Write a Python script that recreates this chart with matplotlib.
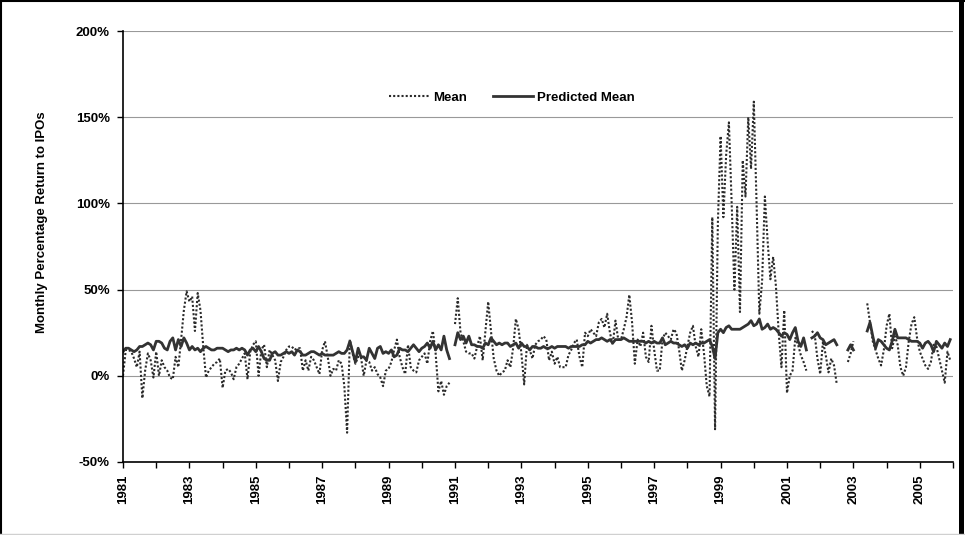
import numpy as np
import matplotlib
matplotlib.use("Agg")
import matplotlib.pyplot as plt
from matplotlib.lines import Line2D
from matplotlib.ticker import FixedLocator, FuncFormatter

nan = np.nan

# monthly values in percent, Jan 1981 - Dec 2005, one row per year
mean_ret = [
    0, 15, 15, 14, 10, 5, 14, -13, 3, 13, 9, -1,            # 1981
    14, 0, 9, 5, 3, -1, -2, 11, 5, 21, 38, 49,              # 1982
    43, 46, 26, 48, 38, 17, -1, 3, 5, 7, 8, 10,             # 1983
    -7, 3, 4, 2, -2, 5, 7, 10, 13, -2, 14, 18,              # 1984
    20, 0, 15, 18, 5, 15, 12, 9, -3, 8, 11, 15,             # 1985
    17, 17, 15, 16, 16, 3, 9, 3, 11, 9, 5, 1,               # 1986
    15, 20, 11, 0, 4, 3, 9, 7, -6, -33, 21, 13,             # 1987
    7, 11, 11, 0, 9, 8, 3, 5, 1, -1, -6, 3,                 # 1988
    4, 8, 15, 21, 11, 5, 1, 18, 5, 3, 2, 9,                 # 1989
    11, 13, 7, 20, 26, 13, -9, -3, -11, -6, -4, nan,        # 1990
    30, 45, 25, 20, 14, 13, 13, 10, 17, 23, 9, 26,          # 1991
    43, 26, 10, 3, 0, 2, 3, 9, 5, 16, 33, 27,               # 1992
    13, -5, 18, 15, 10, 18, 20, 21, 23, 21, 9, 14,          # 1993
    7, 11, 5, 5, 5, 12, 15, 19, 21, 11, 5, 25,              # 1994
    23, 27, 25, 23, 31, 33, 28, 36, 25, 18, 32, 21,         # 1995
    21, 27, 34, 47, 31, 7, 21, 17, 25, 11, 8, 29,           # 1996
    15, 3, 3, 21, 25, 23, 21, 27, 25, 15, 3, 9,             # 1997
    17, 25, 29, 17, 11, 27, 13, -6, -12, 92, -31, 88,       # 1998
    139, 92, 128, 147, 100, 50, 98, 37, 125, 104, 150, 120, # 1999
    159, 100, 36, 55, 104, 78, 56, 69, 52, 25, 5, 38,       # 2000
    -10, 0, 3, 22, 18, 12, 8, 3, nan, 26, 24, 10,           # 2001
    1, 20, 12, 2, 10, 6, -5, nan, nan, nan, 8, 13,          # 2002
    20, nan, nan, nan, nan, 42, 31, 20, 15, 10, 6, 15,      # 2003
    29, 36, 16, 23, 18, 5, 0, 5, 20, 30, 34, 22,            # 2004
    14, 10, 6, 4, 8, 18, 17, 10, 3, -4, 14, 9,              # 2005
]

pred_mean = [
    14, 16, 16, 15, 14, 15, 17, 17, 18, 19, 18, 15,         # 1981
    20, 20, 19, 16, 15, 20, 22, 15, 21, 17, 22, 19,         # 1982
    15, 17, 15, 16, 14, 16, 17, 16, 15, 15, 16, 16,         # 1983
    16, 15, 14, 15, 15, 16, 15, 16, 15, 12, 15, 16,         # 1984
    14, 17, 14, 10, 9, 9, 13, 14, 12, 12, 13, 14,           # 1985
    13, 14, 12, 15, 14, 12, 12, 13, 14, 14, 13, 12,         # 1986
    13, 12, 12, 12, 12, 13, 14, 13, 13, 15, 20, 14,         # 1987
    8, 16, 11, 11, 9, 16, 13, 10, 16, 17, 13, 14,           # 1988
    13, 15, 11, 12, 16, 15, 15, 14, 16, 18, 16, 14,         # 1989
    16, 17, 19, 16, 20, 15, 18, 15, 23, 15, 10, nan,        # 1990
    18, 25, 21, 23, 19, 23, 18, 18, 17, 17, 16, 19,         # 1991
    18, 22, 20, 18, 19, 18, 19, 19, 17, 18, 19, 16,         # 1992
    19, 17, 17, 15, 17, 17, 16, 16, 17, 16, 16, 17,         # 1993
    16, 17, 17, 17, 17, 16, 17, 17, 17, 17, 18, 18,         # 1994
    20, 19, 20, 21, 21, 22, 21, 20, 21, 19, 21, 21,         # 1995
    21, 22, 21, 20, 20, 20, 20, 20, 20, 19, 20, 19,         # 1996
    20, 19, 19, 22, 18, 19, 20, 19, 19, 18, 17, 18,         # 1997
    16, 19, 18, 19, 18, 19, 19, 20, 21, 17, 10, 25,         # 1998
    27, 25, 28, 29, 27, 27, 27, 27, 28, 29, 30, 32,         # 1999
    29, 30, 33, 27, 28, 30, 27, 28, 27, 25, 23, 25,         # 2000
    24, 21, 25, 28, 20, 17, 22, 15, nan, 22, 23, 25,        # 2001
    22, 21, 18, 19, 20, 21, 18, nan, nan, nan, 15, 18,      # 2002
    15, nan, nan, nan, nan, 26, 31, 23, 16, 21, 20, 18,     # 2003
    16, 15, 20, 27, 22, 22, 22, 22, 21, 20, 20, 20,         # 2004
    19, 16, 19, 20, 18, 14, 20, 18, 16, 19, 17, 21,         # 2005
]

first_year = 1981
last_year = 2006
y_ticks = [-50, 0, 50, 100, 150, 200]

months = first_year + np.arange(len(mean_ret)) / 12.0
years = list(range(first_year, last_year + 1))
year_labels = [str(y) if (y - first_year) % 2 == 0 and y < last_year else "" for y in years]

plt.rcParams["font.family"] = ["Liberation Sans", "DejaVu Sans"]
plt.rcParams["font.weight"] = "bold"

fig = plt.figure(figsize=(9.65, 5.35), dpi=100)
ax = fig.add_axes([123 / 965, 1 - 462 / 535, 830 / 965, 431 / 535])

ax.plot(months, mean_ret, color="#2a2a2a", lw=1.5, linestyle=(0, (1, 1)), label="Mean")
ax.plot(months, pred_mean, color="#333333", lw=2.0, label="Predicted Mean")

ax.set_xlim(first_year, last_year)
ax.set_ylim(-50, 200)
ax.yaxis.set_major_locator(FixedLocator(y_ticks))
ax.yaxis.set_major_formatter(FuncFormatter(lambda v, p: f"{v:.0f}%"))
ax.xaxis.set_major_locator(FixedLocator(years))
ax.set_xticklabels(year_labels, rotation=90, fontsize=9.5, fontweight="bold")
ax.tick_params(axis="y", labelsize=9.5, length=4, width=1, pad=5.5)
ax.tick_params(axis="x", length=4, width=1, pad=5)

ax.grid(axis="y", color="#999999", lw=0.8)
ax.set_axisbelow(True)
for s in ("top", "right"):
    ax.spines[s].set_visible(False)
for s in ("left", "bottom"):
    ax.spines[s].set_linewidth(1.2)

fig.text(42 / 965, 1 - 222 / 535, "Monthly Percentage Return to IPOs",
         rotation=90, ha="center", va="center", fontsize=9.5, fontweight="bold")

ax.legend(loc="center", bbox_to_anchor=(512 / 965, 1 - 98 / 535),
          bbox_transform=fig.transFigure, ncol=2, frameon=False,
          fontsize=9.5, handlelength=3.0, columnspacing=2.0, handletextpad=0.3)

# outer chart frame
fig.add_artist(Line2D([1 / 965, 1 / 965], [0, 1], color="black", lw=1.5, transform=fig.transFigure))
fig.add_artist(Line2D([0, 1], [1 - 1 / 535, 1 - 1 / 535], color="black", lw=1.5, transform=fig.transFigure))
fig.add_artist(Line2D([960.5 / 965, 960.5 / 965], [0, 1], color="black", lw=3.6, transform=fig.transFigure))
fig.add_artist(Line2D([0, 1], [1 - 533.5 / 535, 1 - 533.5 / 535], color="#d0d0d0", lw=1.0, transform=fig.transFigure))

fig.savefig("out.png", dpi=100)
